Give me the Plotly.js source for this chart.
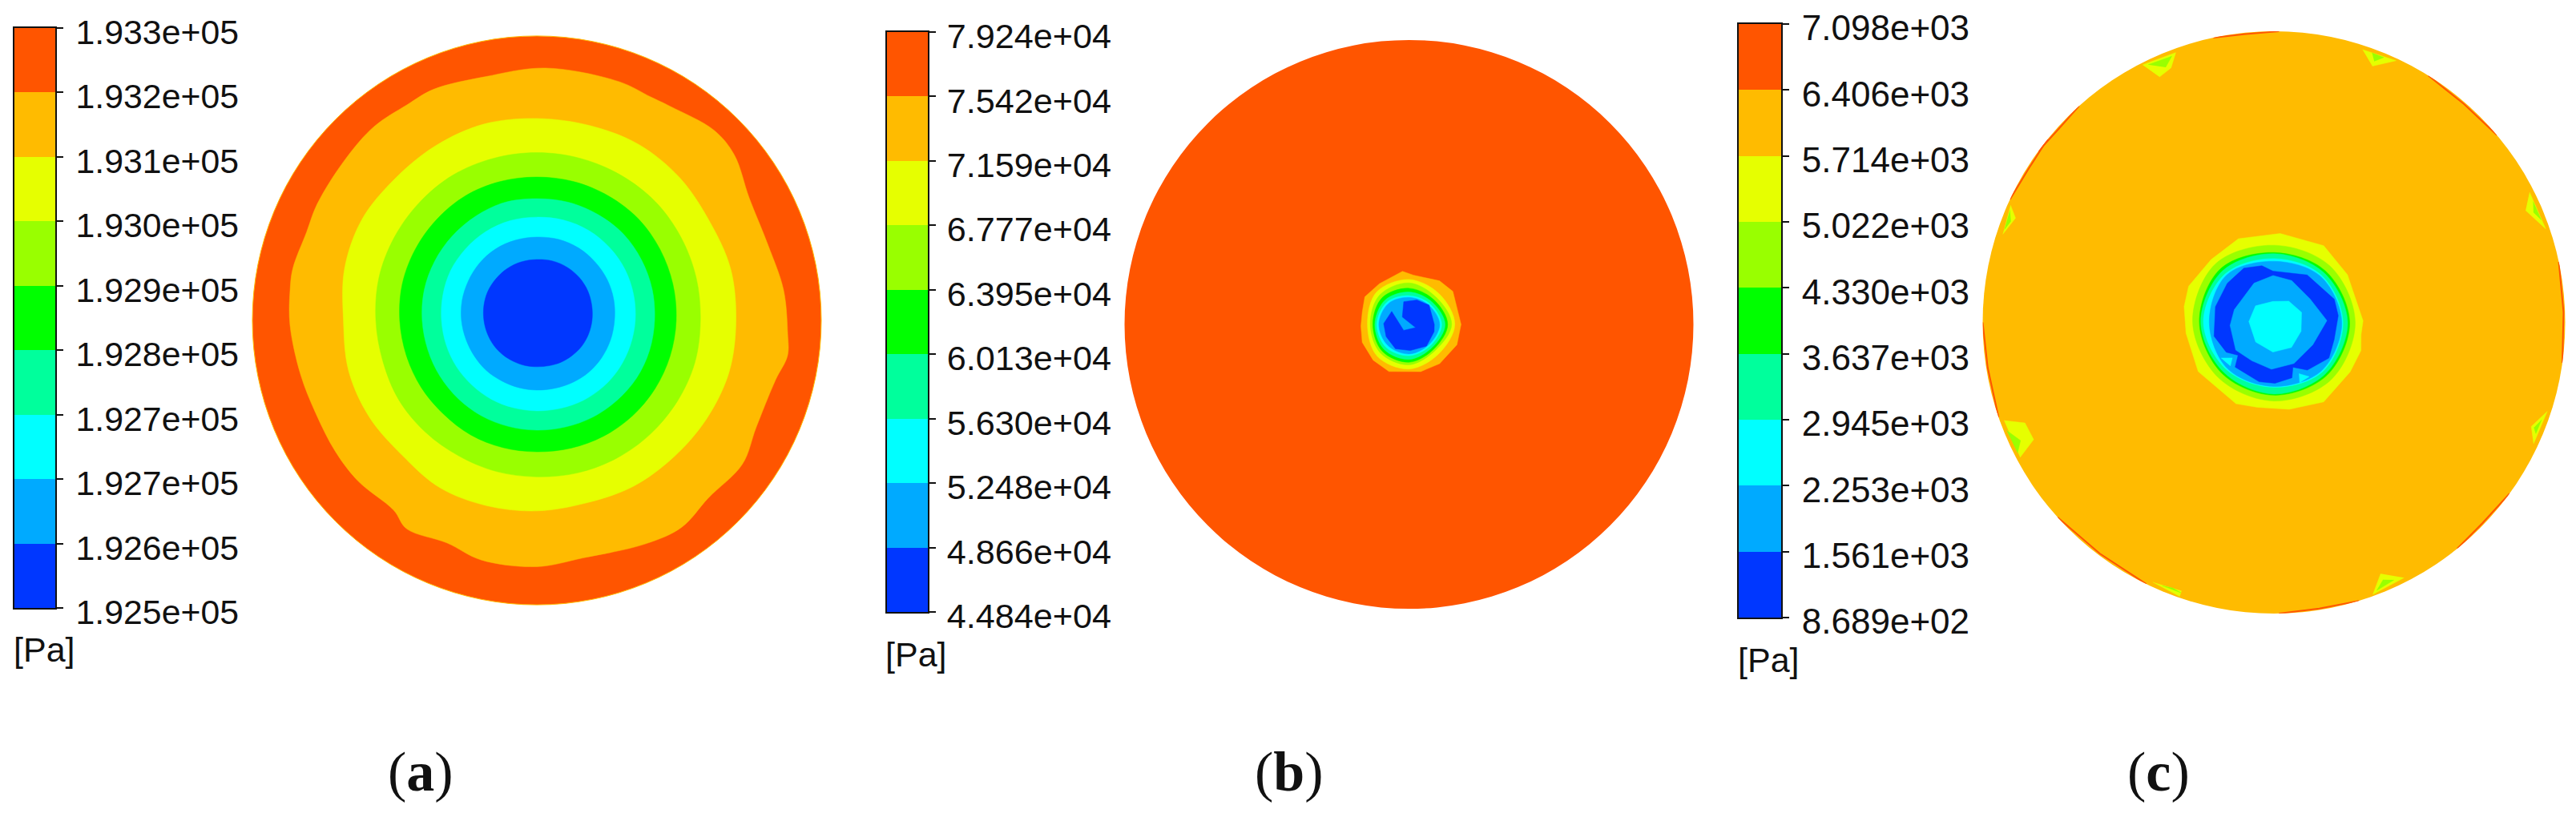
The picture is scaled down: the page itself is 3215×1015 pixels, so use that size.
<!DOCTYPE html>
<html>
<head>
<meta charset="utf-8">
<title>Pressure contours</title>
<script src="https://cdn.plot.ly/plotly-3.0.1.min.js"></script>
<style>
  html, body { margin: 0; padding: 0; background: #fff; }
  #chart { width: 3215px; height: 1015px; }
</style>
</head>
<body>
<div id="chart"></div>
<script>
// legend bands, low to high
const levelColors = ['#0037FF', '#00AAFF', '#00FFFF', '#00FF9C', '#00FF00', '#99FF00', '#E6FF00', '#FFBB00', '#FF5500'];

const ticksA = ['1.925e+05', '1.926e+05', '1.927e+05', '1.927e+05', '1.928e+05', '1.929e+05', '1.930e+05', '1.931e+05', '1.932e+05', '1.933e+05'];
const ticksB = ['4.484e+04', '4.866e+04', '5.248e+04', '5.630e+04', '6.013e+04', '6.395e+04', '6.777e+04', '7.159e+04', '7.542e+04', '7.924e+04'];
const ticksC = ['8.689e+02', '1.561e+03', '2.253e+03', '2.945e+03', '3.637e+03', '4.330e+03', '5.022e+03', '5.714e+03', '6.406e+03', '7.098e+03'];

// contour radii are percent of the disc radius
const anglesA = [0, 15, 30, 45, 60, 75, 90, 105, 120, 135, 150, 165, 180, 195, 210, 225, 240, 255, 270, 285, 300, 315, 330, 345];
const angles8 = [0, 45, 90, 135, 180, 225, 270, 315];

const aOrangeTheta = [357, 7, 18, 30, 40, 47, 58, 63, 71, 88, 102, 114, 121, 130, 140, 152, 159, 168, 173, 181, 193, 203, 213, 222, 233, 238, 248, 257, 270, 281, 296, 305, 314, 325, 334, 346, 352];
const aOrange = [88.3, 87.4, 85.5, 86.2, 90.6, 91.4, 88.7, 88.2, 88.8, 88.8, 87.6, 89, 88.5, 89, 88, 87.4, 86.7, 87.7, 87.4, 86.8, 85.2, 84.3, 84.5, 84.5, 83.6, 86.4, 84.4, 86.5, 86.6, 85.1, 87.4, 88.8, 86.8, 88.2, 85.8, 86.5, 89];
const aYellow = [70, 70.5, 70, 71, 71.5, 71, 71, 71.5, 71, 70.5, 71, 70, 68, 68.5, 68, 67, 68, 67.5, 67, 66.5, 67.5, 68, 69, 70];
const aLime = [57.5, 58, 58.5, 59, 59, 59, 59, 59, 59, 58.5, 58, 57.5, 56.6, 56, 56, 55.5, 55, 55, 55, 55.5, 56, 56.5, 57, 57.5];
const aGreen = [49, 49.5, 50, 50.5, 50.5, 50.5, 50.4, 50.5, 50.5, 50, 49.5, 49, 48.2, 47.5, 47, 46.5, 46.5, 46.3, 46.2, 46.5, 47, 47.5, 48, 48.5];
const aTeal = [41.4, 42, 42.5, 43, 43, 43, 42.8, 43, 42.5, 42, 41.5, 41, 40.3, 39.7, 39.3, 39, 38.8, 38.6, 38.6, 38.8, 39.3, 39.8, 40.5, 41];
const aCyan = [34.6, 35.2, 35.8, 36.2, 36.5, 36.5, 36.3, 36.3, 36, 35.5, 35, 34.2, 33.5, 33, 32.6, 32.2, 32, 31.8, 31.8, 32, 32.5, 33, 33.5, 34];
const aSky = [27.3, 28, 28.6, 29, 29.4, 29.5, 29.3, 29.2, 29, 28.5, 27.8, 27.2, 26.5, 25.8, 25.3, 25, 24.6, 24.5, 24.5, 24.7, 25.2, 25.8, 26.3, 26.8];
const aBlue = [19.4, 20, 20.7, 21.2, 21.5, 21.6, 21.4, 21.3, 21, 20.5, 20, 19.3, 18.6, 18, 17.5, 17, 16.6, 16.4, 16.3, 16.5, 17, 17.5, 18.2, 18.8];

const bOrangeTheta = [0, 37, 55, 85, 97, 126, 148, 165, 182, 201, 225, 247, 284, 308, 337];
const bOrange = [18.3, 19.3, 18.7, 17.4, 18.8, 17.7, 18.3, 17, 16.9, 17.6, 17.8, 18, 17.1, 17.5, 18.3];
const bYellow = [16.1, 15.1, 15.8, 16.1, 14.6, 15.8, 15.7, 14.7];
const bLime = [15, 13.5, 14.6, 14.6, 13.6, 14.2, 14.2, 13];
const bGreen = [13.6, 12.3, 12.7, 13.3, 12.7, 13.3, 13.3, 12.3];
const bTeal = [12.7, 11.3, 11.4, 12, 12, 12.4, 12.3, 11.5];
const bCyan = [11.5, 10.3, 10.1, 11, 11.3, 11.4, 11, 10.6];
const bSky = [10.8, 9.7, 9.5, 10.3, 10.6, 10.5, 10.4, 10];
const bBlueTheta = [0, 44, 72, 103, 132, 334, 228, 143, 178, 208, 241, 273, 309, 344];
const bBlue = [8.9, 9.8, 9, 8.2, 3.5, 2.6, 2.8, 7.6, 8.9, 9.1, 9.8, 9.2, 9.8, 9.2];

const cYellowTheta = [1, 22, 33, 57, 86, 113, 135, 157, 170, 187, 213, 245, 259, 280, 302, 327, 342, 352];
const cYellow = [30.6, 29.2, 30.1, 31.4, 30.6, 31.2, 30.5, 31.8, 31.3, 30.4, 31, 30.8, 29.7, 30.3, 32.2, 31.2, 31.4, 30.2];
const cLime = [27.9, 27.3, 26.5, 28.4, 27.9, 26.9, 27, 27.8];
const cGreen = [26, 25, 24, 26, 25.6, 25, 25, 25.7];
const cTeal = [25.3, 24.2, 23.6, 25, 25.1, 24.3, 24.6, 25];
const cCyan = [23.7, 23, 21.9, 23.6, 24.2, 23, 22.3, 23.8];
const cSky = [23.3, 22.5, 21, 23, 22.2, 22.5, 22, 23.3];
const cBlueTheta = [6, 21, 55, 91, 102, 119, 140, 165, 193, 212, 222.5, 229, 256, 271, 288, 293, 305, 327, 344];
const cBlue = [22.2, 22.2, 19.9, 17.6, 19.9, 21.3, 20.9, 20.8, 21.1, 19.3, 16.7, 20.3, 21, 20.9, 20, 16.7, 20, 22.5, 21.5];
const cSkyInnerTheta = [2, 33, 67, 91, 117, 162, 184, 216, 240, 267, 296, 330];
const cSkyInner = [18.2, 14.8, 15.6, 16.1, 15.1, 14.3, 15.1, 16.2, 15.2, 16.1, 15.7, 15.4];
const cCoreTheta = [20, 55, 93, 138, 178, 227, 268, 305, 342];
const cCore = [10.1, 8.9, 7.2, 8.5, 8.6, 9.2, 10.2, 10.5, 9.8];
const cNotchTheta = [214, 220.5, 225, null, 296, 303, 293];
const cNotch = [21.9, 18.8, 21.2, null, 19.6, 22.2, 22.5];

// wall patches on disc c
const cWallYellowTheta = [117, 110, 112, 115, null, 72, 65, 69, null, 27, 19, 24, null, 342, 335, 338, null, 297, 290, 293, null, 245, 251, 251, null, 200, 202, 206, 208, null, 156, 158, 162];
const cWallYellow = [99.3, 98.6, 94.3, 93, null, 98.5, 99.2, 94.3, null, 98.5, 98.7, 94.6, null, 98.7, 98.4, 95.3, null, 98.4, 99.4, 93.8, null, 98.4, 99.5, 97.5, null, 98.6, 92.2, 91.8, 98.7, null, 99, 95.7, 97.9];
const cWallLimeTheta = [116, 111, 113, null, 70, 67.5, 69, null, 25, 21, 23, null, 340, 337, 338, null, 295, 291, 293, null, 247, 251, 249, null, 202, 205, 207, null, 157, 159, 161];
const cWallLime = [98.5, 97.9, 95.2, null, 98.5, 98.5, 96.1, null, 98.2, 98.3, 96.8, null, 97.8, 97.7, 96.3, null, 97.6, 98.6, 96, null, 98.2, 98.2, 97.6, null, 99, 96, 98.8, null, 98.5, 96.8, 97.9];
const cRimTheta = [144, 138, 132, null, 102, 96, 89, null, 58, 49, 40, null, 12, 2, 352, null, 309, 316, 324, null, 271, 279, 287, null, 222, 233, 244, null, 180, 189, 199, null, 155, 148, 141];
const cRim = [100, 99.4, 100, null, 100, 99.5, 100, null, 100, 99.4, 100, null, 100, 99.5, 100, null, 100, 99.4, 100, null, 100, 99.5, 100, null, 100, 99.4, 100, null, 100, 99.5, 100, null, 100, 99.4, 100];

const W = 3215;
const H = 1015;
const domX = (a, b) => [a / W, b / W];
const domY = (top, bottom) => [1 - bottom / H, 1 - top / H];

function closed(values) {
  return values.concat(values[0]);
}

function band(subplot, theta, r, color, smooth) {
  return {
    type: 'scatterpolar',
    subplot,
    mode: 'lines',
    theta: closed(theta),
    r: closed(r),
    fill: 'toself',
    fillcolor: color,
    line: { color, width: 0.5, shape: smooth ? 'spline' : 'linear' },
    hoverinfo: 'skip',
    showlegend: false,
  };
}

function patches(subplot, theta, r, color) {
  return {
    type: 'scatterpolar',
    subplot,
    mode: 'lines',
    theta,
    r,
    fill: 'toself',
    fillcolor: color,
    line: { color, width: 0.5 },
    connectgaps: false,
    hoverinfo: 'skip',
    showlegend: false,
  };
}

function legendBar(xaxis, yaxis) {
  return {
    type: 'bar',
    xaxis,
    yaxis,
    x: levelColors.map(() => 0),
    y: levelColors.map(() => 1),
    base: levelColors.map((_, index) => index),
    width: 1,
    marker: { color: levelColors, line: { width: 0 } },
    hoverinfo: 'skip',
    showlegend: false,
  };
}

const [blue, sky, cyan, teal, green, lime, yellow, orange, red] = levelColors;

const traces = [
  legendBar('x', 'y'),
  legendBar('x2', 'y2'),
  legendBar('x3', 'y3'),

  band('polar', aOrangeTheta, aOrange, orange, true),
  band('polar', anglesA, aYellow, yellow, true),
  band('polar', anglesA, aLime, lime, true),
  band('polar', anglesA, aGreen, green, true),
  band('polar', anglesA, aTeal, teal, true),
  band('polar', anglesA, aCyan, cyan, true),
  band('polar', anglesA, aSky, sky, true),
  band('polar', anglesA, aBlue, blue, true),

  band('polar2', bOrangeTheta, bOrange, orange, false),
  band('polar2', angles8, bYellow, yellow, true),
  band('polar2', angles8, bLime, lime, true),
  band('polar2', angles8, bGreen, green, true),
  band('polar2', angles8, bTeal, teal, true),
  band('polar2', angles8, bCyan, cyan, true),
  band('polar2', angles8, bSky, sky, true),
  band('polar2', bBlueTheta, bBlue, blue, false),

  patches('polar3', cWallYellowTheta, cWallYellow, yellow),
  patches('polar3', cWallLimeTheta, cWallLime, lime),
  {
    type: 'scatterpolar',
    subplot: 'polar3',
    mode: 'lines',
    theta: cRimTheta,
    r: cRim,
    line: { color: red, width: 2 },
    hoverinfo: 'skip',
    showlegend: false,
  },
  band('polar3', cYellowTheta, cYellow, yellow, false),
  band('polar3', angles8, cLime, lime, true),
  band('polar3', angles8, cGreen, green, true),
  band('polar3', angles8, cTeal, teal, true),
  band('polar3', angles8, cCyan, cyan, true),
  band('polar3', angles8, cSky, sky, true),
  band('polar3', cBlueTheta, cBlue, blue, false),
  band('polar3', cSkyInnerTheta, cSkyInner, sky, false),
  band('polar3', cCoreTheta, cCore, cyan, false),
  patches('polar3', cNotchTheta, cNotch, cyan),
];

function barXAxis(left, right, anchor) {
  return {
    domain: domX(left, right),
    anchor,
    range: [-0.5, 0.5],
    showticklabels: false,
    ticks: '',
    showgrid: false,
    zeroline: false,
    showline: true,
    mirror: true,
    linecolor: '#111',
    linewidth: 2,
  };
}

function barYAxis(top, bottom, anchor, labels, fontSize, standoff) {
  return {
    domain: domY(top, bottom),
    anchor,
    side: 'right',
    range: [0, 9],
    tickmode: 'array',
    tickvals: labels.map((_, index) => index),
    ticktext: labels,
    ticks: 'outside',
    ticklen: 8,
    tickwidth: 2,
    tickcolor: '#111',
    ticklabelstandoff: standoff,
    ticklabelshift: 5,
    tickfont: { family: '"Liberation Sans", Arial, sans-serif', size: fontSize, color: '#111' },
    showgrid: false,
    zeroline: false,
    showline: true,
    mirror: true,
    linecolor: '#111',
    linewidth: 2,
  };
}

function disc(left, right, top, bottom, color, edge) {
  return {
    domain: { x: domX(left, right), y: domY(top, bottom) },
    bgcolor: color,
    radialaxis: { visible: false, range: [0, 100] },
    angularaxis: {
      showticklabels: false,
      ticks: '',
      showgrid: false,
      showline: Boolean(edge),
      linecolor: edge || color,
      linewidth: 1,
    },
  };
}

function note(text, x, y, size, family, xanchor) {
  return {
    text,
    x: x / W,
    y: 1 - y / H,
    xref: 'paper',
    yref: 'paper',
    xanchor,
    yanchor: 'middle',
    showarrow: false,
    font: { family, size, color: '#111' },
  };
}

const sans = '"Liberation Sans", Arial, sans-serif';
const serif = '"Liberation Serif", "DejaVu Serif", serif';

const layout = {
  width: W,
  height: H,
  margin: { l: 0, r: 0, t: 0, b: 0 },
  paper_bgcolor: '#fff',
  plot_bgcolor: '#fff',
  showlegend: false,
  barmode: 'overlay',
  bargap: 0,
  xaxis: barXAxis(18, 69, 'y'),
  yaxis: barYAxis(35, 759, 'x', ticksA, 42.8, 7),
  xaxis2: barXAxis(1107, 1158, 'y2'),
  yaxis2: barYAxis(40, 764, 'x2', ticksB, 43.2, 5),
  xaxis3: barXAxis(2170, 2223, 'y3'),
  yaxis3: barYAxis(30, 771, 'x3', ticksC, 44, 7),
  polar: disc(315, 1025, 45, 755, red, orange),
  polar2: disc(1403.5, 2113.5, 50, 760, red),
  polar3: disc(2474.5, 3201.5, 39, 766, orange),
  annotations: [
    note('[Pa]', 15, 811, 43, sans, 'left'),
    note('[Pa]', 1103, 817, 43, sans, 'left'),
    note('[Pa]', 2167, 824, 43, sans, 'left'),
    note('(<b>a</b>)', 525, 963, 70, serif, 'center'),
    note('(<b>b</b>)', 1609, 963, 70, serif, 'center'),
    note('(<b>c</b>)', 2694, 963, 70, serif, 'center'),
  ],
};

Plotly.newPlot('chart', traces, layout, { displayModeBar: false, staticPlot: true });
</script>
</body>
</html>
